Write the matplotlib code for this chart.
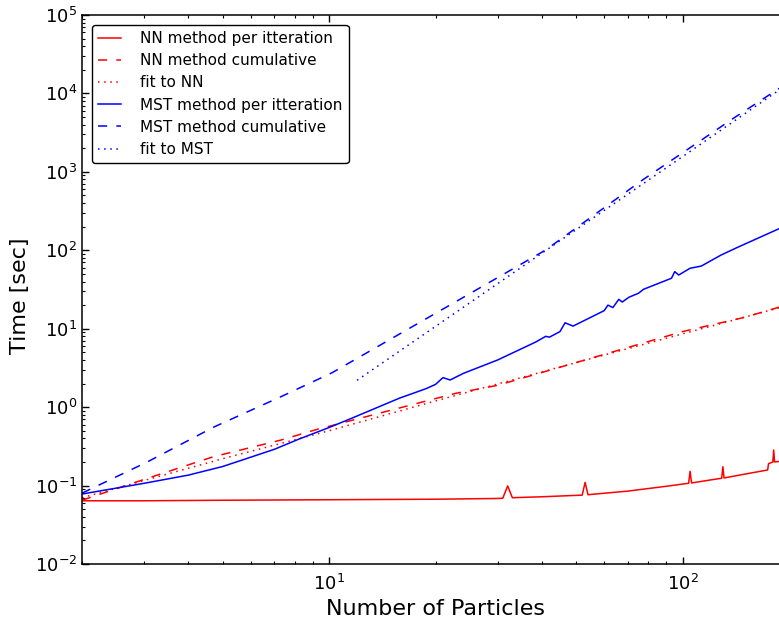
import numpy as np
import matplotlib
matplotlib.use('Agg')
import matplotlib.pyplot as plt
from matplotlib.ticker import NullFormatter

# NN method, time per iteration
nn_iter_n = [2, 3, 5, 10, 20, 30, 31, 32, 33, 40, 50, 52, 53, 54, 70, 90, 104, 105, 106,
             120, 129, 130, 131, 150, 174, 175, 180, 181, 182, 200]
nn_iter_t = [0.064, 0.064, 0.065, 0.066, 0.067, 0.0685, 0.069, 0.099, 0.070, 0.072, 0.075,
             0.0755, 0.110, 0.0765, 0.085, 0.098, 0.107, 0.152, 0.108, 0.118, 0.124, 0.174,
             0.125, 0.140, 0.158, 0.190, 0.200, 0.284, 0.200, 0.21]

# NN method, cumulative
nn_cum_n = [2, 3, 4.7, 7.3, 9.5, 10, 22.8, 30, 53, 100, 150, 200]
nn_cum_t = [0.065, 0.12, 0.233, 0.38, 0.54, 0.57, 1.5, 1.9, 4.0, 9.2, 14.0, 20.5]

# fit to NN
nn_fit_n = [2, 5, 10, 20, 50, 100, 200]
nn_fit_t = [0.070, 0.22, 0.50, 1.2, 3.7, 8.6, 20.0]

# MST method, time per iteration
mst_iter_n = [2, 3, 4, 5, 6, 7, 8.2, 10, 11.4, 15.8, 18.8, 20, 21, 22, 24, 30, 38.5, 41, 42,
              45, 46.5, 49, 60, 61.5, 63.5, 66, 67.5, 70.5, 75, 77.5, 93, 95, 97.5, 105,
              113, 128.5, 143, 200]
mst_iter_t = [0.078, 0.107, 0.136, 0.175, 0.23, 0.29, 0.39, 0.55, 0.70, 1.30, 1.72, 1.95,
              2.38, 2.22, 2.7, 4.0, 6.8, 8.0, 7.8, 9.2, 11.9, 10.8, 17.0, 20.0, 18.6, 23.7,
              21.9, 25.2, 28.3, 31.8, 44.0, 53.4, 48.4, 59.0, 63.0, 87.0, 109.0, 215.0]

# MST method, cumulative
mst_cum_n = [2, 3.06, 4.73, 7.31, 10.2, 20, 41, 77, 100, 140, 200]
mst_cum_t = [0.08, 0.20, 0.56, 1.36, 2.75, 15.7, 101, 787, 1750, 4900, 14000]

# fit to MST
mst_fit_n = [12, 20, 40, 100, 200]
mst_fit_t = [2.2, 10.7, 92, 1565, 13500]

y_ticks = [1e-2, 1e-1, 1e0, 1e1, 1e2, 1e3, 1e4, 1e5]
x_ticks = [10, 100]

fig = plt.figure(figsize=(7.79, 6.23), dpi=100)
ax = fig.add_axes([0.10526, 0.0947, 0.9076, 0.8812])

lw = 1.1
ax.plot(nn_iter_n, nn_iter_t, color='#ff0000', ls='-', lw=lw, label='NN method per itteration')
ax.plot(nn_cum_n, nn_cum_t, color='#ff0000', ls=(0, (6, 6)), lw=lw, label='NN method cumulative')
ax.plot(nn_fit_n, nn_fit_t, color='#ff0000', ls=(0, (1, 3)), lw=lw, label='fit to NN')
ax.plot(mst_iter_n, mst_iter_t, color='#0000ff', ls='-', lw=lw, label='MST method per itteration')
ax.plot(mst_cum_n, mst_cum_t, color='#0000ff', ls=(0, (6, 6)), lw=lw, label='MST method cumulative')
ax.plot(mst_fit_n, mst_fit_t, color='#0000ff', ls=(0, (1, 3)), lw=lw, label='fit to MST')

ax.set_xscale('log')
ax.set_yscale('log')
ax.set_xticks(x_ticks)
ax.set_yticks(y_ticks)
ax.set_xlim(2, 200)
ax.set_ylim(1e-2, 1e5)
ax.xaxis.set_minor_formatter(NullFormatter())
ax.yaxis.set_minor_formatter(NullFormatter())

ax.tick_params(which='both', direction='in', top=True, right=True, labelsize=13)
ax.tick_params(axis='x', which='both', pad=7)
ax.tick_params(axis='y', which='both', pad=3.5)
ax.tick_params(which='major', length=5, width=1)
ax.tick_params(which='minor', length=2.5, width=0.8)
for s in ax.spines.values():
    s.set_linewidth(1.1)

ax.set_xlabel('Number of Particles', fontsize=16)
ax.set_ylabel('Time [sec]', fontsize=16)
ax.yaxis.set_label_coords(-0.074, 0.488)

leg = ax.legend(loc='upper left', fontsize=11, handlelength=1.5, handletextpad=1.25,
                labelspacing=0.47, borderaxespad=0.65, fancybox=True, framealpha=1)
leg.get_frame().set_edgecolor('black')
leg.get_frame().set_linewidth(1.0)

plt.savefig('out.png', dpi=100)
